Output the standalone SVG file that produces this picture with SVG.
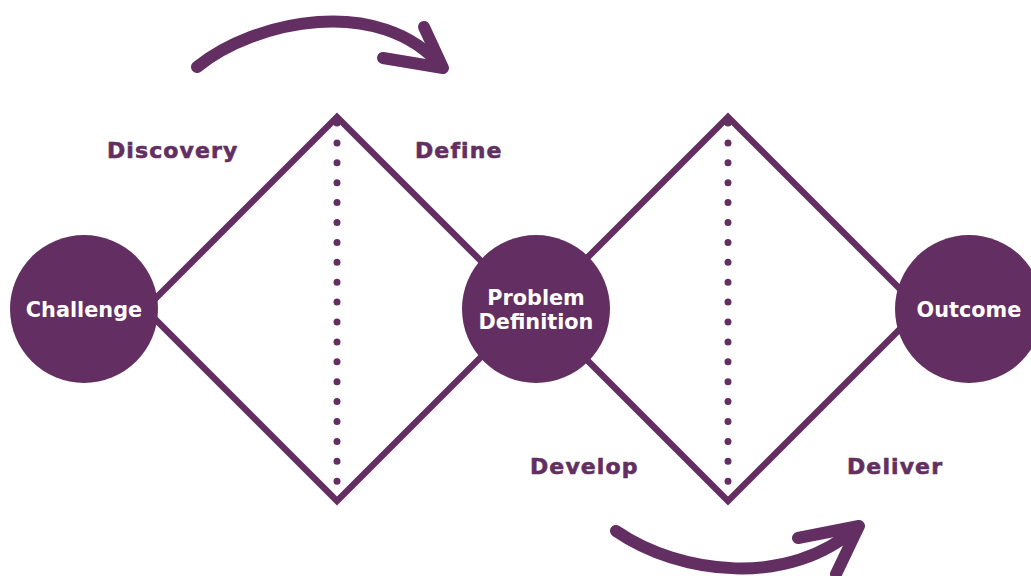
<svg xmlns="http://www.w3.org/2000/svg" width="1031" height="576" viewBox="0 0 1031 576">
<style>
.edge{fill:none;stroke:#632f62;stroke-width:6.5;stroke-linejoin:miter}
.dots{fill:none;stroke:#632f62;stroke-width:7;stroke-linecap:round;stroke-dasharray:0 19.9}
.arrow{fill:none;stroke:#632f62;stroke-width:12;stroke-linecap:round;stroke-linejoin:round}
.node{fill:#632f62}
.ntext{fill:#ffffff;font-family:"DejaVu Sans",Verdana,sans-serif;font-weight:bold;font-size:20.8px;text-anchor:middle}
.label{fill:#632f62;stroke:#632f62;stroke-width:0.6px;font-family:"DejaVu Sans",Verdana,sans-serif;font-weight:bold;font-size:22px;letter-spacing:1.1px}
</style>
<rect width="1031" height="576" fill="#ffffff"/>
<g id="connectors">
<path class="edge" d="M145,309 L337,117 L529,309 L337,501 Z"/>
<path class="edge" d="M536,309 L728,117 L920,309 L728,501 Z"/>
<path class="dots" d="M337,123 L337,485"/>
<path class="dots" d="M728,123 L728,485"/>
<g id="arrow-top">
<path class="arrow" d="M197,67 C255,20 380,-6 442,67"/>
<path class="arrow" d="M424,27 L443,68 L383,58"/>
</g>
<g id="arrow-bottom">
<path class="arrow" d="M616,531 C680,575 790,588 857,527"/>
<path class="arrow" d="M798,538 L859,526 L836,574"/>
</g>
</g>
<g id="node-challenge">
<circle class="node" cx="84" cy="309" r="74"/>
<text class="ntext" x="84" y="317">Challenge</text>
</g>
<g id="node-problem">
<circle class="node" cx="536" cy="309" r="74"/>
<text class="ntext" x="536" y="305">Problem</text>
<text class="ntext" x="536" y="329">Definition</text>
</g>
<g id="node-outcome">
<circle class="node" cx="969" cy="309" r="74"/>
<text class="ntext" x="969" y="317">Outcome</text>
</g>
<g id="labels">
<text class="label" x="107" y="158">Discovery</text>
<text class="label" x="415" y="158">Define</text>
<text class="label" x="530" y="474">Develop</text>
<text class="label" x="847" y="474">Deliver</text>
</g>
</svg>
